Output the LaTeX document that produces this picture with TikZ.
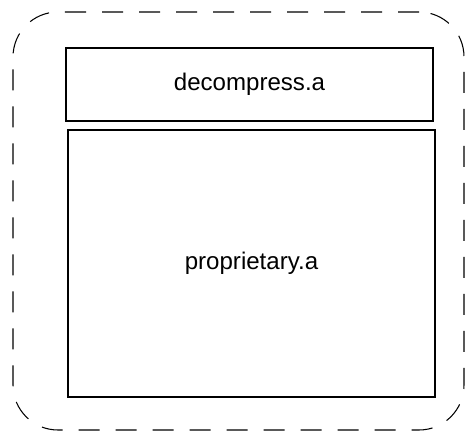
\documentclass[tikz,border=0pt]{standalone}
\usepackage{fontspec}
\setmainfont{Liberation Sans}
\usetikzlibrary{positioning}
\tikzset{
   every path/.style={line width=0.6pt},
   libbox/.style={draw, rectangle, minimum width=7.34cm, inner sep=0pt},
   bundle/.style={draw, rectangle, dashed, dash pattern=on 0.42cm off 0.32cm,
                  rounded corners=0.9cm, minimum width=9.02cm, minimum height=8.36cm},
}

\begin{document}
\begin{tikzpicture}[
    every node/.style={font=\fontsize{13.7}{16}\selectfont}
]

\useasboundingbox (0,0) rectangle (9.3,-8.64);

% =========================================================
% outer bundle
% =========================================================

\node[bundle] (archive) at (4.77,-4.42) {};


% =========================================================
% libraries
% =========================================================

\node[libbox, minimum height=1.46cm] (decompress) at (4.99,-1.69) {decompress.a};

\node[libbox, minimum height=5.34cm] (proprietary) at (5.03,-5.27) {proprietary.a};


\end{tikzpicture}
\end{document}
